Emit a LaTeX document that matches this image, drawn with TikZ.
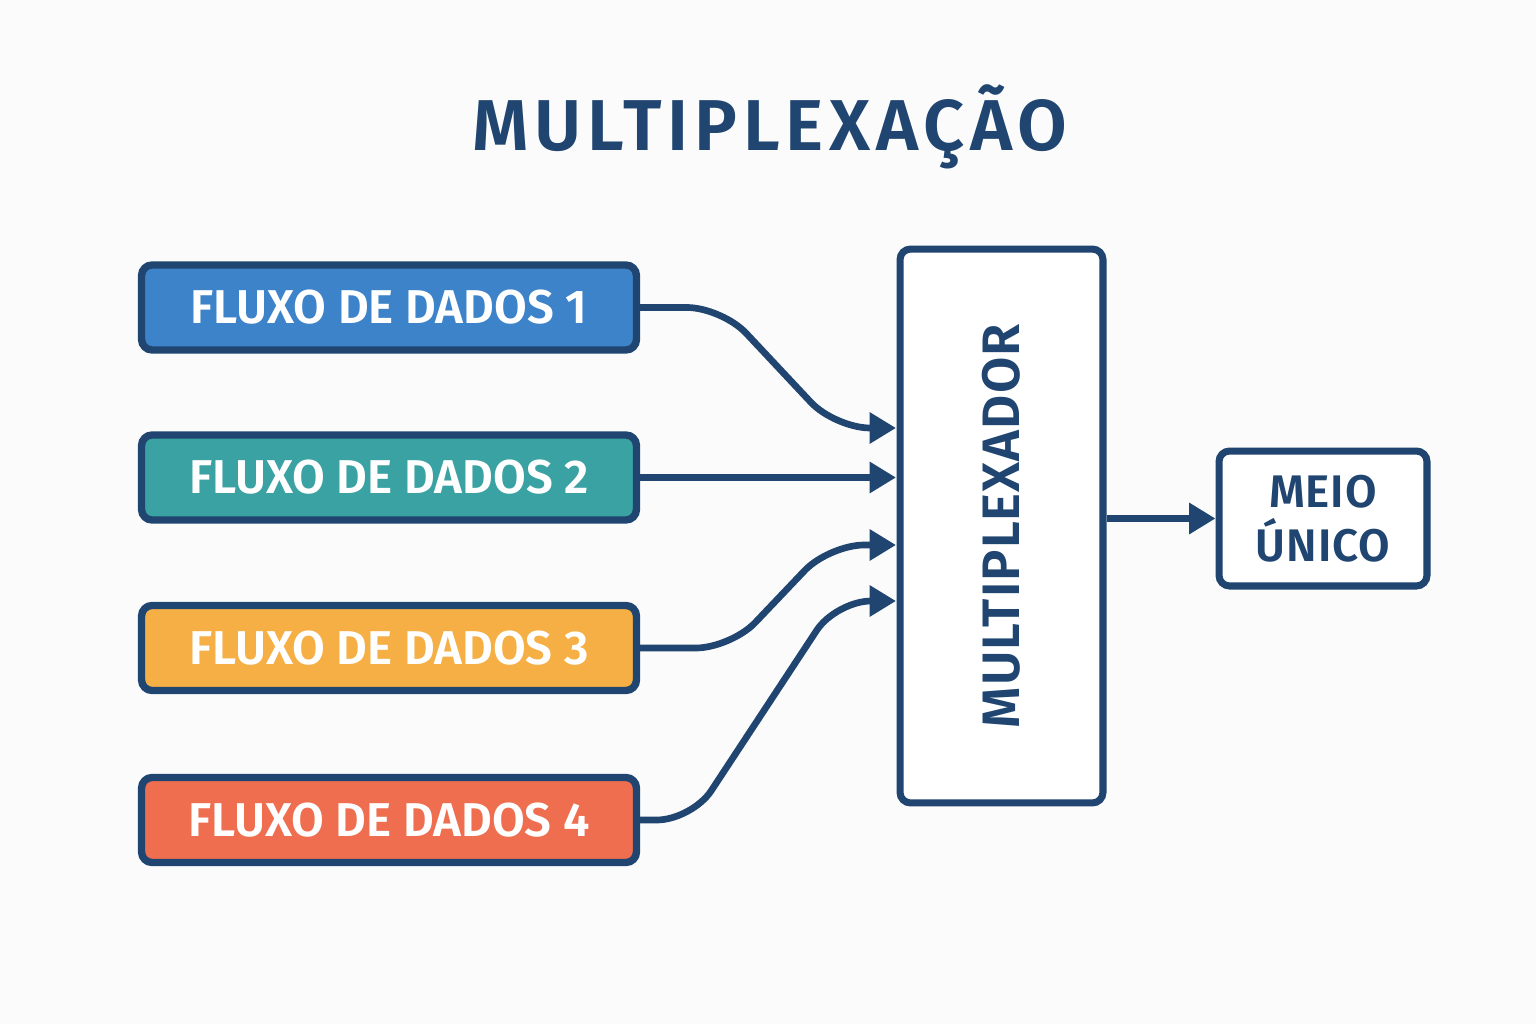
\documentclass[tikz,border=0pt]{standalone}
\usepackage{fontspec}
\setmainfont{Fira Sans}[BoldFont={Fira Sans SemiBold}]
\usetikzlibrary{arrows.meta}
\definecolor{navy}{HTML}{1F4570}
\definecolor{bgc}{HTML}{FBFBFB}
\definecolor{c1}{HTML}{3D83C9}
\definecolor{c2}{HTML}{3AA2A2}
\definecolor{c3}{HTML}{F5AF45}
\definecolor{c4}{HTML}{EE6E4F}
\tikzset{
  streambox/.style={draw=navy, line width=4.2pt, rounded corners=6pt, minimum width=9.9cm, minimum height=1.7cm, text=white, font=\fontsize{27}{31}\selectfont\bfseries},
  plainbox/.style={draw=navy, line width=4pt, rounded corners=6pt, fill=white, text=navy, font=\fontsize{26}{29}\selectfont\bfseries\addfontfeature{LetterSpace=2}, align=center},
  conn/.style={draw=navy, line width=3.8pt, rounded corners=20pt, -{Triangle[length=15pt,width=17pt]}},
}
\begin{document}
\begin{tikzpicture}[x=0.02cm,y=-0.02cm]
\fill[bgc] (0,0) rectangle (1536,1024);
\useasboundingbox (0,0) rectangle (1536,1024);
\node[text=navy, font=\fontsize{41}{46}\selectfont\bfseries\addfontfeature{LetterSpace=8}] (title) at (770,127) {MULTIPLEXAÇÃO};
\node[streambox, fill=c1] (s1) at (389,307.5) {FLUXO DE DADOS 1};
\node[streambox, fill=c2] (s2) at (389,477.5) {FLUXO DE DADOS 2};
\node[streambox, fill=c3] (s3) at (389,648) {FLUXO DE DADOS 3};
\node[streambox, fill=c4] (s4) at (389,820) {FLUXO DE DADOS 4};
\node[plainbox, minimum width=4.06cm, minimum height=11.08cm] (mux) at (1001.5,526) {};
\node[text=navy, rotate=90, font=\fontsize{30}{34}\selectfont\bfseries\addfontfeature{LetterSpace=2}] (muxlabel) at (mux.center) {MULTIPLEXADOR};
\node[plainbox, minimum width=4.16cm, minimum height=2.7cm] (meio) at (1323,518.5) {MEIO\\[2pt]ÚNICO};
\coordinate (in1) at (896,428);
\coordinate (in2) at (896,477.5);
\coordinate (in3) at (896,545);
\coordinate (in4) at (896,601);
\draw[conn] (s1.east) -- (722,307.5) -- (835,428) -- (in1);
\draw[conn] (s2.east) -- (in2);
\draw[conn] (s3.east) -- (731,648) -- (829,545) -- (in3);
\draw[conn] (s4.east) -- (692,820) -- (836,601) -- (in4);
\draw[conn] (mux.east |- meio.west) -- (meio.west);
\end{tikzpicture}
\end{document}
